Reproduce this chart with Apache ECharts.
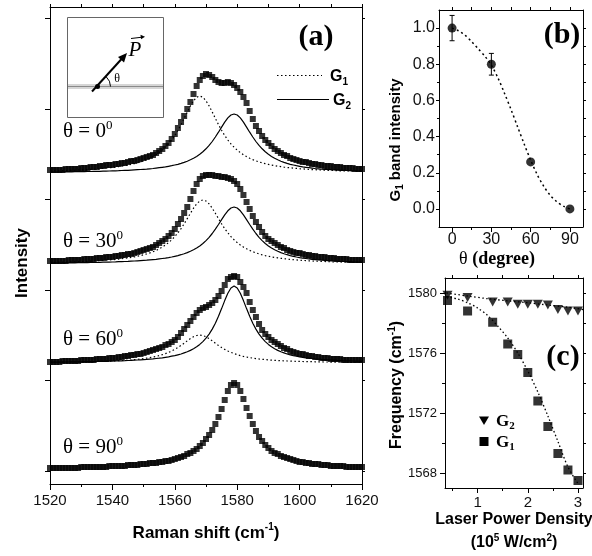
<!DOCTYPE html>
<html>
<head>
<meta charset="utf-8">
<script src="https://cdn.jsdelivr.net/npm/echarts@6/dist/echarts.min.js"></script>
<style>
  html, body { margin: 0; padding: 0; background: #fff; }
  #chart { width: 592px; height: 556px; }
</style>
</head>
<body>
<div id="chart"></div>
<script>
// ---------- (a) polarized Raman spectra, G band region ----------
const ramanShift = [
  1520,1521,1522,1523,1524,1525,1526,1527,1528,1529,
  1530,1531,1532,1533,1534,1535,1536,1537,1538,1539,
  1540,1541,1542,1543,1544,1545,1546,1547,1548,1549,
  1550,1551,1552,1553,1554,1555,1556,1557,1558,1559,
  1560,1561,1562,1563,1564,1565,1566,1567,1568,1569,
  1570,1571,1572,1573,1574,1575,1576,1577,1578,1579,
  1580,1581,1582,1583,1584,1585,1586,1587,1588,1589,
  1590,1591,1592,1593,1594,1595,1596,1597,1598,1599,
  1600,1601,1602,1603,1604,1605,1606,1607,1608,1609,
  1610,1611,1612,1613,1614,1615,1616,1617,1618,1619,
  1620
];

// vertical offset of each stacked trace (theta = 0, 30, 60, 90 degrees)
const traceOffsets = [311, 220, 121, 15];
const traceAngles = [0, 30, 60, 90];

// measured spectra (intensity above each trace's own baseline)
const spectrum0 = [
  3,3,3,3,3,4,4,4,4,4, 5,5,5,6,6,6,7,7,8,8, 8,9,9,10,10,11,12,12,13,14,
  15,16,17,18,20,22,24,27,30,34, 39,45,51,57,64,71,79,87,93,97,
  99,98,96,93,91,90,90,91,90,88, 85,81,76,70,62,54,47,42,37,33,
  30,27,24,22,20,18,17,15,14,13, 12,11,11,10,9,9,8,8,7,7,
  7,6,6,6,5,5,5,5,4,4, 4
];
const spectrum30 = [
  3,3,3,3,3,3,4,4,4,4, 4,5,5,5,5,6,6,6,7,7, 7,8,8,9,9,10,10,11,12,13,
  14,15,16,17,19,21,23,25,28,31, 35,40,45,51,57,65,73,80,85,88,
  89,89,89,88,88,87,87,86,85,83, 80,75,69,62,55,48,42,37,32,28,
  25,23,21,19,17,16,14,13,12,11, 11,10,9,9,8,8,7,7,7,6,
  6,6,5,5,5,5,4,4,4,4, 4
];
const spectrum60 = [
  1,1,1,1,2,2,2,2,2,2, 3,3,3,3,3,4,4,4,4,5, 5,5,6,6,7,7,8,8,9,9,
  10,11,12,13,14,15,16,18,19,21, 23,26,30,34,38,42,46,50,53,55,
  56,58,60,63,67,72,78,84,86,87, 86,81,76,70,61,53,46,39,33,29,
  26,23,21,19,17,15,14,12,11,10, 9,9,8,7,7,6,6,5,5,5,
  4,4,4,4,3,3,3,3,3,3, 3
];
const spectrum90 = [
  1,1,1,1,1,1,1,1,1,1, 2,2,2,2,2,2,2,2,2,3, 3,3,3,3,3,4,4,4,4,5,
  5,5,6,6,6,7,7,8,8,9, 10,11,12,13,15,16,18,20,23,26,
  30,34,39,45,52,60,69,78,84,86, 84,78,70,61,53,45,38,32,28,24,
  21,18,16,15,13,12,11,10,9,8, 7,7,6,6,5,5,5,4,4,4,
  3,3,3,3,3,2,2,2,2,2, 2
];

// fitted G1 components (dotted)
const fitG1_0 = [
  2.0,2.1,2.2,2.2,2.3,2.5,2.6,2.7,2.8,3.0, 3.1,3.3,3.4,3.6,3.9,4.1,4.3,4.6,4.9,5.2,
  5.5,5.9,6.4,6.8,7.4,7.9,8.6,9.3,10.2,11.1, 12.2,13.4,14.8,16.4,18.2,20.4,22.9,25.8,29.1,33.0,
  37.5,42.7,48.4,54.6,61.0,67.1,72.2,75.8,77,75.8, 72.2,67.1,61.0,54.6,48.4,42.7,37.5,33.0,29.1,25.8,
  22.9,20.4,18.2,16.4,14.8,13.4,12.2,11.1,10.2,9.3, 8.6,7.9,7.4,6.8,6.4,5.9,5.5,5.2,4.9,4.6,
  4.3,4.1,3.9,3.6,3.4,3.3,3.1,3.0,2.8,2.7, 2.6,2.5,2.3,2.2,2.2,2.1,2.0,1.9,1.8,1.8, 1.7
];
const fitG1_30 = [
  1.6,1.6,1.7,1.8,1.9,2.0,2.0,2.1,2.2,2.3, 2.5,2.6,2.7,2.9,3.0,3.2,3.4,3.6,3.8,4.1,
  4.3,4.6,4.9,5.3,5.7,6.1,6.6,7.1,7.8,8.4, 9.2,10.1,11.1,12.3,13.6,15.2,16.9,19.0,21.4,24.2,
  27.4,31.2,35.4,40.2,45.4,50.7,55.8,60.1,63.0,64, 63.0,60.1,55.8,50.7,45.4,40.2,35.4,31.2,27.4,24.2,
  21.4,19.0,16.9,15.2,13.6,12.3,11.1,10.1,9.2,8.4, 7.8,7.1,6.6,6.1,5.7,5.3,4.9,4.6,4.3,4.1,
  3.8,3.6,3.4,3.2,3.0,2.9,2.7,2.6,2.5,2.3, 2.2,2.1,2.0,2.0,1.9,1.8,1.7,1.6,1.6,1.5, 1.5
];
const fitG1_60 = [
  0.7,0.8,0.8,0.8,0.9,0.9,0.9,1.0,1.0,1.1, 1.1,1.2,1.3,1.3,1.4,1.5,1.6,1.7,1.8,1.9,
  2.0,2.2,2.3,2.5,2.7,2.9,3.1,3.4,3.7,4.0, 4.4,4.9,5.4,6.0,6.6,7.4,8.3,9.4,10.6,12.0,
  13.6,15.5,17.6,19.8,22.2,24.4,26.3,27.5,28,27.5, 26.3,24.4,22.2,19.8,17.6,15.5,13.6,12.0,10.6,9.4,
  8.3,7.4,6.6,6.0,5.4,4.9,4.4,4.0,3.7,3.4, 3.1,2.9,2.7,2.5,2.3,2.2,2.0,1.9,1.8,1.7,
  1.6,1.5,1.4,1.3,1.3,1.2,1.1,1.1,1.0,1.0, 0.9,0.9,0.9,0.8,0.8,0.8,0.7,0.7,0.7,0.6, 0.6
];

// fitted G2 components (solid)
const fitG2_0 = [
  0.9,1.0,1.0,1.0,1.1,1.1,1.2,1.2,1.3,1.3, 1.4,1.4,1.5,1.5,1.6,1.7,1.7,1.8,1.9,2.0,
  2.1,2.2,2.3,2.5,2.6,2.7,2.9,3.1,3.3,3.5, 3.7,3.9,4.2,4.5,4.9,5.3,5.7,6.1,6.7,7.3,
  8.0,8.7,9.6,10.6,11.8,13.2,14.7,16.6,18.7,21.2, 24.2,27.6,31.5,36.0,40.8,45.9,50.9,55.1,58.0,59,
  58.0,55.1,50.9,45.9,40.8,36.0,31.5,27.6,24.2,21.2, 18.7,16.6,14.7,13.2,11.8,10.6,9.6,8.7,8.0,7.3,
  6.7,6.1,5.7,5.3,4.9,4.5,4.2,3.9,3.7,3.5, 3.3,3.1,2.9,2.7,2.6,2.5,2.3,2.2,2.1,2.0, 1.9
];
const fitG2_30 = [
  0.9,0.9,1.0,1.0,1.0,1.1,1.1,1.2,1.2,1.3, 1.3,1.4,1.4,1.5,1.5,1.6,1.7,1.8,1.8,1.9,
  2.0,2.1,2.3,2.4,2.5,2.6,2.8,3.0,3.2,3.4, 3.6,3.8,4.1,4.4,4.7,5.1,5.5,5.9,6.4,7.0,
  7.7,8.4,9.3,10.3,11.4,12.7,14.2,16.0,18.1,20.5, 23.4,26.7,30.5,34.8,39.5,44.4,49.1,53.2,56.0,57,
  56.0,53.2,49.1,44.4,39.5,34.8,30.5,26.7,23.4,20.5, 18.1,16.0,14.2,12.7,11.4,10.3,9.3,8.4,7.7,7.0,
  6.4,5.9,5.5,5.1,4.7,4.4,4.1,3.8,3.6,3.4, 3.2,3.0,2.8,2.6,2.5,2.4,2.3,2.1,2.0,1.9, 1.8
];
const fitG2_60 = [
  0.8,0.9,0.9,0.9,1.0,1.0,1.0,1.1,1.1,1.2, 1.2,1.3,1.3,1.4,1.4,1.5,1.6,1.6,1.7,1.8,
  1.9,2.0,2.1,2.2,2.3,2.5,2.6,2.8,3.0,3.2, 3.4,3.6,3.9,4.1,4.5,4.8,5.2,5.7,6.2,6.8,
  7.4,8.2,9.0,10.1,11.2,12.6,14.3,16.2,18.6,21.4, 24.8,28.9,33.9,39.8,46.7,54.4,62.4,69.7,75.0,77,
  75.0,69.7,62.4,54.4,46.7,39.8,33.9,28.9,24.8,21.4, 18.6,16.2,14.3,12.6,11.2,10.1,9.0,8.2,7.4,6.8,
  6.2,5.7,5.2,4.8,4.5,4.1,3.9,3.6,3.4,3.2, 3.0,2.8,2.6,2.5,2.3,2.2,2.1,2.0,1.9,1.8, 1.7
];

const intensityTicks = [13, 104, 194, 285, 375, 466];

// ---------- (b) G1 band intensity vs polarization angle ----------
const angleDeg = [0, 30, 60, 90];
const g1BandIntensity = [1.0, 0.8, 0.26, 0.0];
const g1BandError = [0.07, 0.06, 0, 0];
const fitAngle = [0, 5, 10, 15, 20, 25, 30, 35, 40, 45, 50, 55, 60, 65, 70, 75, 80, 85, 90];
const fitG1Band = [1.0, 0.985, 0.96, 0.925, 0.885, 0.845, 0.795, 0.725, 0.64, 0.55, 0.455, 0.36, 0.27, 0.19, 0.125, 0.075, 0.04, 0.015, 0.0];

// ---------- (c) peak frequency vs laser power density ----------
const powerDensity = [0.4, 0.8, 1.3, 1.6, 1.8, 2.0, 2.2, 2.4, 2.6, 2.8, 3.0];
const freqG2 = [1579.85, 1579.7, 1579.4, 1579.4, 1579.25, 1579.25, 1579.25, 1579.2, 1578.9, 1578.8, 1578.8];
const freqG1 = [1579.5, 1578.8, 1578.05, 1576.6, 1575.9, 1574.7, 1572.8, 1571.1, 1569.3, 1568.2, 1567.5];
const fitPowerG2 = [0.38, 0.8, 1.2, 1.6, 2.0, 2.4, 2.8, 3.1];
const fitFreqG2 = [1580.0, 1579.8, 1579.62, 1579.48, 1579.35, 1579.2, 1579.05, 1578.9];
const fitPowerG1 = [0.38, 0.6, 0.8, 1.0, 1.2, 1.4, 1.6, 1.8, 2.0, 2.2, 2.4, 2.6, 2.8, 3.0];
const fitFreqG1 = [1579.75, 1579.6, 1579.35, 1579.0, 1578.5, 1577.8, 1577.0, 1576.0, 1574.8, 1573.4, 1571.8, 1570.1, 1568.4, 1567.3];

// ---------- helpers ----------
const SANS = '"Liberation Sans", Arial, sans-serif';
const SERIF = '"Liberation Serif", "Times New Roman", serif';
const INK = '#000';
const plain = (v) => String(v);

function pairs(xs, ys, off) {
  return xs.map((x, i) => [x, ys[i] + (off || 0)]);
}

function axis(extra) {
  return Object.assign({
    type: 'value',
    splitLine: { show: false },
    axisLine: { show: true, onZero: false, lineStyle: { color: INK, width: 1 } },
    axisTick: { show: false },
    axisLabel: { show: false },
    minorTick: { show: false }
  }, extra);
}
function ticks(values, len) {
  return { show: true, inside: false, length: len, customValues: values, lineStyle: { color: INK, width: 1 } };
}
function labels(values, size, margin, fmt) {
  return { show: true, customValues: values, fontSize: size, color: '#111', fontFamily: SANS, margin: margin, formatter: fmt || plain };
}
const hiddenLine = { show: false, onZero: false };

const xAxes = [
  // (a)
  axis({ gridIndex: 0, position: 'bottom', min: 1520, max: 1620, interval: 20,
    axisTick: { show: true, length: 6, lineStyle: { color: INK } },
    minorTick: { show: true, splitNumber: 2, length: 3, lineStyle: { color: INK } },
    axisLabel: { show: true, fontSize: 15, color: '#111', fontFamily: SANS, margin: 9, formatter: plain } }),
  axis({ gridIndex: 0, position: 'top', min: 1520, max: 1620, interval: 10,
    axisTick: { show: true, length: 3, lineStyle: { color: INK } } }),
  // (b)
  axis({ gridIndex: 1, position: 'bottom', min: -10, max: 100,
    axisTick: ticks([0, 30, 60, 90], 5), axisLabel: labels([0, 30, 60, 90], 16, 5) }),
  axis({ gridIndex: 1, position: 'bottom', min: -10, max: 100, axisLine: hiddenLine,
    axisTick: ticks([15, 45, 75], 3) }),
  axis({ gridIndex: 1, position: 'top', min: -10, max: 100,
    axisTick: ticks([0, 15, 30, 45, 60, 75, 90], 3) }),
  // (c)
  axis({ gridIndex: 2, position: 'bottom', min: 0.35, max: 3.1,
    axisTick: ticks([1, 2, 3], 5), axisLabel: labels([1, 2, 3], 15, 7) }),
  axis({ gridIndex: 2, position: 'bottom', min: 0.35, max: 3.1, axisLine: hiddenLine,
    axisTick: ticks([0.5, 1.5, 2.5], 3) }),
  axis({ gridIndex: 2, position: 'top', min: 0.35, max: 3.1,
    axisTick: ticks([0.5, 1, 1.5, 2, 2.5, 3], 3) })
];

const yAxes = [
  // (a)
  axis({ gridIndex: 0, position: 'left', min: 0, max: 477, axisTick: ticks(intensityTicks, 5) }),
  axis({ gridIndex: 0, position: 'right', min: 0, max: 477, axisTick: ticks(intensityTicks, 3) }),
  // (b)
  axis({ gridIndex: 1, position: 'left', min: -0.1, max: 1.1,
    axisTick: ticks([0, 0.2, 0.4, 0.6, 0.8, 1.0], 3),
    axisLabel: labels([0, 0.2, 0.4, 0.6, 0.8, 1.0], 16, 4, v => Number(v).toFixed(1)) }),
  axis({ gridIndex: 1, position: 'left', min: -0.1, max: 1.1, axisLine: hiddenLine,
    axisTick: ticks([0.1, 0.3, 0.5, 0.7, 0.9], 2) }),
  axis({ gridIndex: 1, position: 'right', min: -0.1, max: 1.1,
    axisTick: ticks([0, 0.1, 0.2, 0.3, 0.4, 0.5, 0.6, 0.7, 0.8, 0.9, 1.0], 3) }),
  // (c)
  axis({ gridIndex: 2, position: 'left', min: 1567, max: 1581,
    axisTick: ticks([1568, 1572, 1576, 1580], 5),
    axisLabel: labels([1568, 1572, 1576, 1580], 13, 8) }),
  axis({ gridIndex: 2, position: 'left', min: 1567, max: 1581, axisLine: hiddenLine,
    axisTick: ticks([1570, 1574, 1578], 3) }),
  axis({ gridIndex: 2, position: 'right', min: 1567, max: 1581,
    axisTick: ticks([1568, 1570, 1572, 1574, 1576, 1578, 1580], 3) })
];

// ---------- series ----------
const dotted = [1.5, 2.5];
const spectra = [
  { data: spectrum0, g1: fitG1_0, g2: fitG2_0 },
  { data: spectrum30, g1: fitG1_30, g2: fitG2_30 },
  { data: spectrum60, g1: fitG1_60, g2: fitG2_60 },
  { data: spectrum90, g1: null, g2: null }
];

const series = [];
spectra.forEach((s, i) => {
  const off = traceOffsets[i];
  if (s.g1) {
    series.push({
      name: 'G1 fit ' + traceAngles[i], type: 'line', xAxisIndex: 0, yAxisIndex: 0,
      data: pairs(ramanShift, s.g1, off), showSymbol: false, symbol: 'none', z: 2,
      lineStyle: { color: INK, width: 1.2, type: dotted }
    });
    series.push({
      name: 'G2 fit ' + traceAngles[i], type: 'line', xAxisIndex: 0, yAxisIndex: 0,
      data: pairs(ramanShift, s.g2, off), showSymbol: false, symbol: 'none', z: 2,
      lineStyle: { color: INK, width: 1.2 }
    });
  }
  series.push({
    name: 'spectrum ' + traceAngles[i], type: 'scatter', xAxisIndex: 0, yAxisIndex: 0,
    data: pairs(ramanShift, s.data, off), symbol: 'rect', symbolSize: 6, z: 3,
    itemStyle: { color: INK }
  });
});

// (b)
series.push({
  name: 'G1 band fit', type: 'line', xAxisIndex: 2, yAxisIndex: 2,
  data: pairs(fitAngle, fitG1Band), showSymbol: false, symbol: 'none', smooth: 0.3,
  lineStyle: { color: INK, width: 1.5, type: [2, 3] }
});
series.push({
  name: 'G1 band error', type: 'custom', xAxisIndex: 2, yAxisIndex: 2,
  data: angleDeg.map((a, i) => [a, g1BandIntensity[i], g1BandError[i]]),
  encode: { x: 0, y: 1 },
  renderItem: function (params, api) {
    const x = api.value(0), y = api.value(1), e = api.value(2);
    if (!e) return null;
    const top = api.coord([x, y + e]);
    const bot = api.coord([x, y - e]);
    const st = { stroke: INK, lineWidth: 1 };
    return {
      type: 'group',
      children: [
        { type: 'line', shape: { x1: top[0], y1: top[1], x2: bot[0], y2: bot[1] }, style: st },
        { type: 'line', shape: { x1: top[0] - 2.5, y1: top[1], x2: top[0] + 2.5, y2: top[1] }, style: st },
        { type: 'line', shape: { x1: bot[0] - 2.5, y1: bot[1], x2: bot[0] + 2.5, y2: bot[1] }, style: st }
      ]
    };
  },
  z: 3
});
series.push({
  name: 'G1 band intensity', type: 'scatter', xAxisIndex: 2, yAxisIndex: 2,
  data: pairs(angleDeg, g1BandIntensity), symbol: 'circle', symbolSize: 9, clip: false, z: 4,
  itemStyle: { color: INK }
});

// (c)
series.push({
  name: 'G2 shift fit', type: 'line', xAxisIndex: 5, yAxisIndex: 5,
  data: pairs(fitPowerG2, fitFreqG2), showSymbol: false, symbol: 'none', smooth: 0.3,
  lineStyle: { color: INK, width: 1.3, type: [1.5, 2.5] }
});
series.push({
  name: 'G1 shift fit', type: 'line', xAxisIndex: 5, yAxisIndex: 5,
  data: pairs(fitPowerG1, fitFreqG1), showSymbol: false, symbol: 'none', smooth: 0.3,
  lineStyle: { color: INK, width: 1.3, type: [1.5, 2.5] }
});
series.push({
  name: 'G2', type: 'scatter', xAxisIndex: 5, yAxisIndex: 5,
  data: pairs(powerDensity, freqG2), symbol: 'triangle', symbolRotate: 180, symbolSize: [10, 9],
  clip: false, z: 4, itemStyle: { color: INK }
});
series.push({
  name: 'G1', type: 'scatter', xAxisIndex: 5, yAxisIndex: 5,
  data: pairs(powerDensity, freqG1), symbol: 'rect', symbolSize: 9,
  clip: false, z: 4, itemStyle: { color: INK }
});

// ---------- annotations ----------
function txt(x, y, text, style, extra) {
  return Object.assign({
    type: 'text', x: x, y: y, z: 100,
    style: Object.assign({ text: text, fill: INK, align: 'center', verticalAlign: 'middle' }, style)
  }, extra || {});
}
const supSans = (s) => ({ fontSize: s, fontWeight: 'bold', fontFamily: SANS, verticalAlign: 'top' });
const subSans = (s) => ({ fontSize: s, fontWeight: 'bold', fontFamily: SANS, verticalAlign: 'bottom' });
const boldSans = (s, lh) => ({ fontSize: s, fontWeight: 'bold', fontFamily: SANS, lineHeight: lh });

function thetaLabel(y, deg) {
  return txt(63, y, '{m|θ = ' + deg + '}{s|0}', {
    align: 'left',
    rich: {
      m: { fontSize: 21, fontFamily: SERIF, lineHeight: 24 },
      s: { fontSize: 13, fontFamily: SERIF, verticalAlign: 'top' }
    }
  });
}

const gfx = [
  // inset: polarization geometry
  { type: 'rect', z: 90, shape: { x: 67.5, y: 17.5, width: 96, height: 100 },
    style: { fill: '#fff', stroke: '#666', lineWidth: 1 } },
  { type: 'rect', z: 91, shape: { x: 68, y: 84, width: 95, height: 5 }, style: { fill: '#d6d6d6' } },
  { type: 'line', z: 92, shape: { x1: 68, y1: 86.5, x2: 163, y2: 86.5 }, style: { stroke: '#8a8a8a', lineWidth: 1 } },
  { type: 'line', z: 93, shape: { x1: 92, y1: 91.5, x2: 122, y2: 58.5 }, style: { stroke: INK, lineWidth: 2 } },
  { type: 'polygon', z: 93, shape: { points: [[127, 53], [124, 62.4], [118, 57]] }, style: { fill: INK } },
  { type: 'circle', z: 93, shape: { cx: 97.5, cy: 86.5, r: 2.5 }, style: { fill: INK } },
  { type: 'arc', z: 93, shape: { cx: 97.5, cy: 86.5, r: 13, startAngle: -0.834, endAngle: 0, clockwise: true },
    style: { stroke: INK, lineWidth: 1, fill: null } },
  txt(117, 79, 'θ', { fontSize: 12, fontFamily: SERIF }),
  txt(135, 50, 'P', { fontSize: 21, fontFamily: SERIF, fontStyle: 'italic' }),
  { type: 'line', z: 93, shape: { x1: 131, y1: 38.5, x2: 142, y2: 37.2 }, style: { stroke: INK, lineWidth: 1 } },
  { type: 'polygon', z: 93, shape: { points: [[145, 36.8], [140.5, 34.8], [141, 39.3]] }, style: { fill: INK } },

  // panel tags
  txt(316, 37, '(a)', { fontSize: 30, fontWeight: 'bold', fontFamily: SERIF }),
  txt(562, 35, '(b)', { fontSize: 30, fontWeight: 'bold', fontFamily: SERIF }),
  txt(563, 357, '(c)', { fontSize: 30, fontWeight: 'bold', fontFamily: SERIF }),

  // legend (a)
  { type: 'line', z: 95, shape: { x1: 277, y1: 75.5, x2: 322, y2: 75.5 },
    style: { stroke: INK, lineWidth: 1.2, lineDash: dotted } },
  { type: 'line', z: 95, shape: { x1: 277, y1: 99.5, x2: 329, y2: 99.5 },
    style: { stroke: INK, lineWidth: 1.2 } },
  txt(330, 77, '{m|G}{s|1}', { align: 'left', rich: { m: boldSans(16, 20), s: subSans(10) } }),
  txt(333, 101, '{m|G}{s|2}', { align: 'left', rich: { m: boldSans(16, 20), s: subSans(10) } }),

  // angle labels
  thetaLabel(131, 0),
  thetaLabel(241, 30),
  thetaLabel(339, 60),
  thetaLabel(447, 90),

  // axis titles (a)
  txt(206, 533, '{m|Raman shift (cm}{s|-1}{m|)}', { rich: { m: boldSans(17, 22), s: supSans(10) } }),
  txt(22, 263, 'Intensity', { fontSize: 17, fontWeight: 'bold', fontFamily: SANS }, { rotation: Math.PI / 2 }),

  // axis titles (b)
  txt(396, 140, '{m|G}{s|1}{m| band intensity}', { rich: { m: boldSans(15, 19), s: subSans(10) } },
    { rotation: Math.PI / 2 }),
  txt(497, 259, '{r|θ }{b|(degree)}', { rich: {
    r: { fontSize: 18, fontFamily: SERIF },
    b: { fontSize: 18, fontFamily: SERIF, fontWeight: 'bold' } } }),

  // axis titles (c)
  txt(397, 385, '{m|Frequency (cm}{s|-1}{m|)}', { rich: { m: boldSans(16, 20), s: supSans(10) } },
    { rotation: Math.PI / 2 }),
  txt(514, 520, 'Laser Power Density', { fontSize: 16, fontWeight: 'bold', fontFamily: SANS }),
  txt(514, 543, '{m|(10}{s|5}{m| W/cm}{s|2}{m|)}', { rich: { m: boldSans(16, 20), s: supSans(10) } }),

  // legend (c)
  { type: 'polygon', z: 95, shape: { points: [[479, 416.5], [489, 416.5], [484, 425]] }, style: { fill: INK } },
  { type: 'rect', z: 95, shape: { x: 479.5, y: 437, width: 9, height: 9 }, style: { fill: INK } },
  txt(496, 422, '{m|G}{s|2}', { align: 'left', rich: {
    m: { fontSize: 17, fontWeight: 'bold', fontFamily: SERIF, lineHeight: 20 },
    s: { fontSize: 11, fontWeight: 'bold', fontFamily: SERIF, verticalAlign: 'bottom' } } }),
  txt(496, 443, '{m|G}{s|1}', { align: 'left', rich: {
    m: { fontSize: 17, fontWeight: 'bold', fontFamily: SERIF, lineHeight: 20 },
    s: { fontSize: 11, fontWeight: 'bold', fontFamily: SERIF, verticalAlign: 'bottom' } } })
];

const chart = echarts.init(document.getElementById('chart'), null, { renderer: 'canvas' });
chart.setOption({
  animation: false,
  backgroundColor: '#fff',
  grid: [
    { left: 50, top: 7, width: 312, height: 477 },
    { left: 439, top: 10, width: 144, height: 217 },
    { left: 445, top: 278, width: 138, height: 210 }
  ],
  xAxis: xAxes,
  yAxis: yAxes,
  series: series,
  graphic: { elements: gfx }
});
</script>
</body>
</html>
